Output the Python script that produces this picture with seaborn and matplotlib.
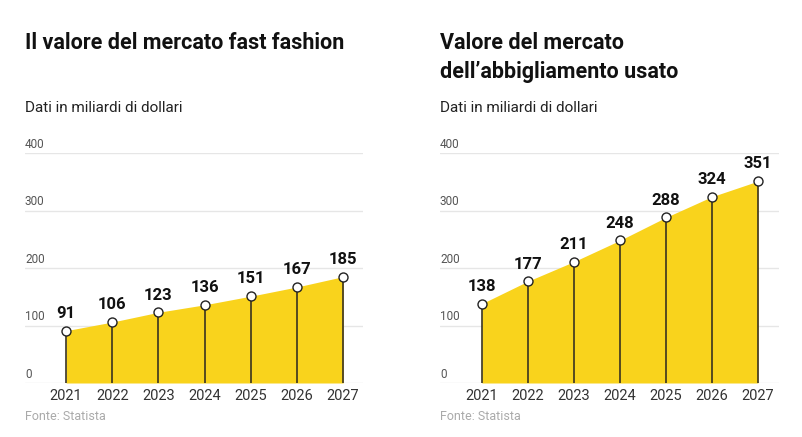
import matplotlib
matplotlib.use("Agg")
import matplotlib.pyplot as plt
import seaborn as sns
import pandas as pd

years = [2021, 2022, 2023, 2024, 2025, 2026, 2027]
fast_fashion = [91, 106, 123, 136, 151, 167, 185]
second_hand = [138, 177, 211, 248, 288, 324, 351]
y_ticks = [0, 100, 200, 300, 400]

title_left = ["Il valore del mercato fast fashion"]
title_right = ["Valore del mercato", "dell\u2019abbigliamento usato"]
subtitle = "Dati in miliardi di dollari"
source = "Fonte: Statista"

YELLOW = "#F9D31C"
FONT = "Roboto"

sns.set_theme(style="white")
plt.rcParams["font.family"] = [FONT, "DejaVu Sans"]

fig = plt.figure(figsize=(8.03, 4.37), dpi=100)
W, H = 803, 437

def px_axes(x0, x1, ytop, ybot):
    return fig.add_axes([x0 / W, 1 - ybot / H, (x1 - x0) / W, (ybot - ytop) / H])

panels = [
    (25, 363, fast_fashion, title_left, (2020.11, 2027.43)),
    (440, 779, second_hand, title_right, (2020.09, 2027.46)),
]

for x0, x1, vals, title, xlim in panels:
    ax = px_axes(x0, x1, 153, 383)
    df = pd.DataFrame({"anno": years, "valore": vals})
    for t in y_ticks:
        ax.axhline(t, color="#e6e6e6", lw=1.0, zorder=0)
        ax.text(0.0, t + 4, str(t), transform=ax.get_yaxis_transform(),
                ha="left", va="bottom", fontsize=8.5, color="#555555")
    ax.fill_between(df["anno"], 0, df["valore"], color=YELLOW, lw=0, zorder=1)
    ax.vlines(df["anno"], 0, df["valore"], color="#3a3320", lw=1.2, zorder=2)
    sns.scatterplot(data=df, x="anno", y="valore", ax=ax, s=42, color="white",
                    edgecolor="#222222", linewidth=1.0, zorder=3, legend=False)
    for xv, yv in zip(years, vals):
        ax.annotate(str(yv), (xv, yv), xytext=(0, 7), textcoords="offset points",
                    ha="center", va="bottom", fontsize=12, fontweight="bold",
                    color="#111111")
    ax.set_xlim(*xlim)
    ax.set_ylim(0, 400)
    ax.set_xticks(years)
    ax.set_xticklabels([str(y) for y in years], fontsize=10.5, color="#333333")
    ax.tick_params(axis="x", length=0, pad=4)
    ax.set_yticks([])
    ax.set_xlabel("")
    ax.set_ylabel("")
    for s in ax.spines.values():
        s.set_visible(False)
    ax.patch.set_alpha(0)

    for i, line in enumerate(title):
        fig.text(x0 / W, 1 - (43 + 29 * i) / H, line, ha="left", va="center",
                 fontsize=15.5, fontweight="bold", color="#111111")
    fig.text(x0 / W, 1 - 108 / H, subtitle, ha="left", va="center",
             fontsize=11, color="#222222")
    fig.text(x0 / W, 1 - 416 / H, source, ha="left", va="center",
             fontsize=9, color="#aaaaaa")

fig.savefig("out.png", dpi=100)
